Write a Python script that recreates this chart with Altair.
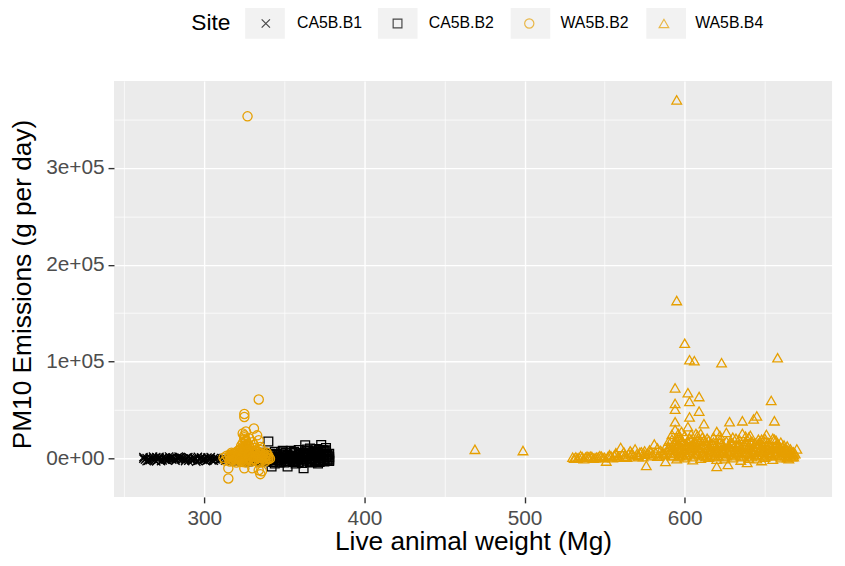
import altair as alt
import pandas as pd

sites = ["CA5B.B1", "CA5B.B2", "WA5B.B2", "WA5B.B4"]

# CA5B.B1 (crosses)
b1_w = [262, 263, 264, 265, 266, 267, 268, 269, 270, 271, 272, 273, 274, 275, 276, 277, 278, 279, 280,
        281, 282, 283, 284, 285, 286, 287, 288, 289, 290, 291, 292, 293, 294, 295, 296, 297, 298, 299,
        300, 301, 302, 303, 304, 305, 306, 307, 308, 310, 312, 314,
        262, 264, 266, 268, 270, 272, 274, 276, 278, 280, 282, 284, 286, 288, 290, 292, 294, 296, 298,
        300, 302, 304, 306, 309, 311, 313]
b1_e = [0, -1000, 500, -2000, 1000, -500, 0, -1500, 1500, -800, 200, -2500, 800, -300, 1200, -1800, 0,
        600, -1000, 300, -2000, 900, -400, 1500, -1200, 100, -700, 1000, -2200, 400, -100, -1500, 600,
        -3000, 1800, -600, 200, -1400, 800, -2500, 1000, -200, 1500, -1800, 500, -800, 200, -1000, 500, -500,
        1500, -2500, -1500, 2000, -2800, 1800, -1700, -1000, 2200, 1000, -500, 2000, 800, -2500, 1500,
        -1800, -500, -2000, 1200, -1000, -1800, -300, -2200, -1500, 300, -2000]

# CA5B.B2 (squares)
b2_w = [318, 320, 322, 325, 328, 330, 332, 334, 336, 338, 339, 340, 341, 342, 343, 344, 345, 346, 347,
        348, 349, 350, 351, 352, 353, 354, 355, 356, 357, 358, 359, 360, 361, 362, 362, 363, 364, 365,
        366, 366, 367, 368, 369, 370, 370, 371, 372, 373, 373, 374, 375, 376, 377, 378, 345, 355, 365, 375,
        342, 347, 352, 357, 362, 367, 372, 377,
        319, 321, 323, 326, 327, 329, 331, 333, 335, 337, 339, 341, 343, 344, 346, 348, 350, 351, 353,
        354, 356, 357, 358, 359, 360, 361, 363, 364, 365, 367, 368, 369, 371, 372, 373, 374, 375, 376,
        377, 378, 378,
        327, 329, 331, 333, 335, 337, 338, 340, 342, 343, 345, 347, 348, 349, 351, 352, 354, 355, 356,
        358, 359, 360, 361, 362, 363, 364, 366, 367, 368, 369, 370, 371, 372, 373, 374, 375, 376, 377,
        378, 344, 357, 371, 349, 364, 376]
b2_e = [0, 1000, -1000, 500, -2000, 1500, 0, 2000, -1500, 3000, 1000, 17700, -500, -8000, 1000, 4000,
        -2000, 2500, 500, -3000, 3500, 0, 1500, -8000, 2000, -1000, 3000, 500, -2500, 1000, 4000, -500,
        2000, -10000, 6000, 13700, 1000, 8000, -2000, 10500, 3000, 500, 7000, -1500, 10000, 2500, 9000,
        14000, 1000, -1000, 4000, 2000, 0, 1500, 5000, 6000, 4000, 8000,
        2000, -1000, 3000, 1000, 2500, -500, 5000, 3000,
        -2000, 2500, -500, 3000, -3000, 1000, 4000, -1000, 2500, 500, -2500, 5000, -3500, 7000, -1500,
        4500, -4000, 6000, -2500, 8000, -3500, 5500, -500, 9000, 3500, -4500, 5000, -3000, 2500, -4000,
        6500, -2500, 7500, -3500, 4500, 8500, -3000, 6500, -2000, 5000, -1000,
        2000, -1500, 500, 3500, -3000, 6000, 1500, -2000, 4500, -500, 2000, -4000, 6500, 1000, -3000,
        4000, 500, -2000, 7000, 2500, -3500, 5000, 1500, -2000, 7500, 3500, -3500, 5500, 2000, -1000,
        6000, 500, -2500, 7000, 3000, -1500, 8500, 4000, -2500, -5000, -5000, -5000, 8000, 9500, 11000]

# WA5B.B2 (circles)
wb2_w = [315, 315, 316, 317, 318, 318, 319, 319, 320, 320, 321, 321, 322, 322, 323, 323, 324, 324, 324,
         324, 325, 325, 325, 325, 325, 325, 326, 326, 326, 327, 327, 327, 328, 328, 329, 329, 330, 330,
         331, 331, 331, 332, 332, 333, 333, 334, 334, 334, 334, 335, 335, 335, 336, 336, 337, 337, 338,
         339, 340, 323, 326, 328, 327, 324, 317, 319, 321, 323, 329, 331, 333, 336, 338, 325, 326, 327,
         316, 317, 318, 319, 320, 321, 322, 323, 324, 325, 326, 327, 328, 329, 330, 331, 332, 333, 334,
         335, 336, 337, 338, 339, 340, 324, 326, 328, 330, 325, 327,
         312, 313, 314, 315, 316, 318, 320, 322, 324, 326, 328, 330, 332, 334, 336, 338, 339, 340, 341,
         322, 325, 327, 324, 326, 323, 328, 331, 333, 335]
wb2_e = [-10000, -20500, 2000, -1000, 3000, 5000, 0, 6000, 2500, -2000, 4000, 8000, 1000, 6000, -3000,
         3000, 500, 8000, 12000, 16000, 20000, 24000, 43000, 46000, 5000, -10000, 2000, -4000, 14000,
         353000, 7000, 10000, 21000, 1000, 4000, -2000, 6000, -10000, 31000, 2000, 14000, 8000, -1000,
         24000, 3000, 61000, 19000, -12000, 5000, 1000, 9000, -16000, -13000, 3000, 6000, 0, 2000, 4000,
         1000, 10000, 18000, 8000, 4000, 3000, 4000, 2000, 1000, 5000, 2000, 5000, 1000, 1000, 3000,
         12000, 17000, 4000,
         4000, 6000, -1500, 3000, 5000, -500, 3500, 7000, -1000, 1500, 6000, 3000, -500, 7000, 2500,
         -1000, 5000, 7000, 1000, 5000, -2000, 4000, -1000, 2000, -500, 10000, 19000, 13000, 17000,
         22000, 14000,
         1000, -2000, 3000, 500, -3000, 1000, -4000, -1500, -3500, -2000, 5000, -3000, 2000, -4000, 500,
         -3000, 6000, 3000, 0, 9000, 11000, 15000, 26000, 28000, 13000, 9000, 11000, 8000, 12000]

# WA5B.B4 (triangles)
wb4_w = [469, 499, 530, 532, 534, 536, 538, 540, 542, 544, 546, 548, 550, 551, 552, 554, 556, 558, 560,
         561, 563, 565, 566, 568, 569, 570, 572, 573, 574, 576, 577, 578, 580, 581, 582, 584, 585, 586,
         588, 588, 589, 590, 591, 592, 593, 594, 594, 594, 594, 595, 595, 594, 595, 596, 596, 597, 597,
         598, 598, 599, 600, 600, 600, 601, 602, 602, 603, 603, 603, 604, 604, 605, 606, 606, 607, 608,
         609, 609, 609, 610, 611, 612, 612, 613, 614, 615, 616, 617, 618, 619, 620, 620, 621, 622, 623,
         623, 624, 625, 626, 627, 627, 628, 629, 630, 631, 632, 633, 634, 635, 636, 636, 637, 638, 639,
         639, 640, 641, 642, 643, 644, 645, 645, 646, 647, 648, 648, 649, 650, 651, 651, 652, 653, 654,
         654, 655, 656, 656, 657, 658, 658, 659, 660, 661, 662, 663, 664, 665, 666, 667, 668, 670,
         592, 596, 599, 603, 606, 611, 615, 619, 624, 629, 633, 638, 642, 647, 652, 657, 661, 664,
         533, 539, 545, 553, 557, 562, 567, 571, 575, 579, 583, 587, 590, 593, 595, 597, 601, 605,
         608, 613, 617, 621, 626, 631, 635, 640, 644, 649, 653, 659, 663, 666,
         591, 592, 593, 594, 595, 596, 597, 598, 599, 600, 601, 602, 603, 604, 605, 606, 607, 608, 609,
         610, 611, 612, 613, 614, 615, 616, 617, 618, 619, 620, 621, 622, 623, 624, 625, 626, 627, 628,
         629, 630, 631, 632, 633, 634, 635, 636, 637, 638, 639, 640, 641, 642, 643, 644, 645, 646, 647,
         648, 649, 650, 651, 652, 653, 654, 655, 656, 657, 658, 659, 660, 661, 662, 663, 664, 665, 666,
         667, 668, 669,
         595, 600, 605, 610, 615, 620, 625, 630, 635, 640, 645, 650, 655, 660, 665, 597, 603, 608, 612,
         618, 622, 634, 641, 646, 650, 657,
         531, 535, 537, 541, 543, 547, 549, 553, 555, 557, 559, 562, 564, 567, 571, 575, 579, 583, 587,
         590, 592, 594, 596, 598, 600, 602, 604, 606, 608, 610, 612, 614, 616, 618, 620, 622, 624, 626,
         628, 630, 632, 634, 636, 638, 640, 642, 644, 646, 648, 650, 652, 654, 656, 658, 660, 662, 664,
         666, 668]
wb4_e = [9600, 8300, 1500, 1800, 1200, 2000, 1500, 1700, 2200, 1000, 1800, 2500, 1300, -2500, 2000, 2800,
         3500, 1500, 11500, 4000, 2500, 5000, 8000, 3000, 10000, 4500, 6500, 7000, 2000, -7000, 5500,
         9000, 4000, 15000, 6000, 3000, 8500, 5000, -3000, 12000, 7000, 18000, 5000, 25000, 12000, 38000,
         51000, 57000, 73000, 163000, 370000, 30000, 20000, 8000, 15000, 22000, 3000, 10000, 28000, 17000,
         119000, 6000, 24000, 13000, 33000, 68000, 43000, 59000, 102000, 20000, 9000, 15000, 101000, 4000,
         26000, 12000, 49000, 64000, 18000, 8000, 22000, 36000, 3000, 14000, 10000, 19000, 6000, 16000,
         2000, 12000, 28000, -8000, 9000, 20000, 99000, 5000, 14000, 11000, 27000, -6000, 7000, 38000,
         17000, 4000, 13000, 21000, 8000, 15000, 3000, 39000, 26000, 10000, 18000, -4000, 6000, 22000,
         12000, 9000, 41000, 16000, 44000, 4000, 20000, 11000, -2000, 7000, 14000, 18000, 25000, 3000,
         10000, 15000, 60000, 6000, 21000, 39000, 12000, 8000, 104000, 16000, 4000, 11000, 7000, 14000,
         3000, 9000, 5000, 6000, 2000, 4000, 10000,
         9000, 14000, 4000, 11000, 17000, 6000, 12000, 3000, 8000, 15000, 5000, 13000, 2000, 9000, 6000,
         3000, 8000, 1000,
         500, 2500, 1500, 3000, 5000, 2000, 6000, 3500, 4500, 7000, 2500, 6000, 10000, 3000, 14000, 7000,
         4000, 11000, 6000, 2000, 9000, 13000, 3000, 7000, 12000, 5000, 15000, 8000, 4000, 13000, 6000, 3000,
         9000, 3000, 16000, 6000, 11000, 2000, 13000, 5000, 9000, 15000, 3000, 11000, 7000, 14000, 2000,
         9000, 16000, 5000, 11000, 15000, 4000, 9000, 18000, 3000, 12000, 8000, 4000, 14000, 7000, 11000,
         3000, 8000, 15000, 6000, 2000, 10000, 13000, 5000, 9000, 16000, 7000, 3000, 12000, 6000, 10000,
         2000, 14000, 7000, 11000, 4000, 17000, 6000, 10000, 3000, 12000, 7000, 15000, 4000, 9000, 2000,
         13000, 6000, 9000, 3000, 11000, 5000, 14000, 7000, 10000, 3000, 12000, 6000, 9000, 2000, 8000,
         4000, 7000, 2000, 5000,
         0, 1000, -1000, 500, 1500, -500, 0, 1000, -1500, 500, 0, 1500, -500, 1000, 0, 19000, 21000,
         24000, 19000, 22000, 17000, 20000, 24000, 16000, 21000, 19000,
         500, 3000, 0, 2500, 500, 3000, 1000, 4000, 1000, 6000, 2000, 7000, 1500, 5000, 2000, 8000, 3000,
         11000, 4000,
         12000, 20000, 16000, 26000, 18000, 9000, 17000, 25000, 12000, 20000, 26000, 14000, 21000, 11000,
         17000, 6000, 24000, 9000, 18000, 13000, 22000, 10000, 15000, 8000, 23000, 12000, 18000, 8000,
         13000, 20000, 9000, 17000, 12000, 20000, 11000, 17000, 9000, 13000, 10000, 7000]

frames = []
for name, w, e in [(sites[0], b1_w, b1_e), (sites[1], b2_w, b2_e),
                   (sites[2], wb2_w, wb2_e), (sites[3], wb4_w, wb4_e)]:
    frames.append(pd.DataFrame({"weight": w, "pm10": e, "Site": name}))
df = pd.concat(frames, ignore_index=True)
df["order"] = range(len(df))
df["SiteKey"] = df["Site"]

FONT = "Liberation Sans"
cross_path = "M-1,-1L1,1M-1,1L1,-1"
box_path = "M-1,-0.9L1,-0.9L1,0.9L-1,0.9Z"

# Main legend: title, key symbols and labels
legend_main = alt.Legend(
    orient="none", legendX=78, legendY=-66, direction="horizontal", zindex=1,
    title="Site", titleOrient="left", titleFontSize=23, titleFont=FONT,
    titleFontWeight="normal", titleColor="#000000", titlePadding=27.3,
    titleBaseline="middle", titleAnchor="middle",
    labelFontSize=16, labelFont=FONT, labelColor="#000000",
    columnPadding=27, symbolSize=81, symbolStrokeWidth=1.2,
    symbolOffset=0, labelOffset=23.5,
)
# Background legend: only the light grey key boxes (its texts are transparent)
legend_boxes = alt.Legend(
    orient="none", legendX=70, legendY=-81.5, direction="horizontal", zindex=0,
    title="Site", titleOrient="left", titleFontSize=23, titleFont=FONT,
    titleFontWeight="normal", titleColor="transparent", titlePadding=12,
    titleBaseline="middle", titleAnchor="middle",
    labelFontSize=16, labelFont=FONT, labelColor="transparent",
    columnPadding=-36, symbolType=box_path, symbolSize=400,
    symbolStrokeColor="#F2F2F2", symbolStrokeWidth=20, symbolFillColor="#F2F2F2",
    symbolOffset=10.5, labelOffset=17,
)

x_axis = alt.Axis(
    values=[250, 300, 350, 400, 450, 500, 550, 600, 650],
    labelExpr="datum.value % 100 == 0 ? datum.label : ''",
    title="Live animal weight (Mg)", titleFontSize=26.5, titleFont=FONT, titleFontWeight="normal",
    titleColor="#000000", titleY=53, titleBaseline="alphabetic",
    labelFontSize=21, labelFont=FONT, labelColor="#4D4D4D", labelPadding=5,
    tickSize=6, tickWidth=1.4, tickColor="#333333",
    tickOpacity={"condition": {"test": "datum.value % 100 == 0", "value": 1}, "value": 0},
    grid=True, gridColor="#FFFFFF",
    gridWidth={"condition": {"test": "datum.value % 100 == 0", "value": 1.4}, "value": 0.7},
    domain=False,
)
y_axis = alt.Axis(
    values=[0, 50000, 100000, 150000, 200000, 250000, 300000, 350000],
    labelExpr="datum.value % 100000 == 0 ? replace(format(datum.value, '.0e'), 'e+', 'e+0') : ''",
    title="PM10 Emissions (g per day)", titleFontSize=26.5, titleFont=FONT, titleFontWeight="normal",
    titleColor="#000000", titleX=-92, titleY=205, titleAngle=-90, titleBaseline="middle",
    titleAlign="center",
    labelFontSize=21, labelFont=FONT, labelColor="#4D4D4D", labelPadding=4,
    tickSize=6, tickWidth=1.4, tickColor="#333333",
    tickOpacity={"condition": {"test": "datum.value % 100000 == 0", "value": 1}, "value": 0},
    grid=True, gridColor="#FFFFFF",
    gridWidth={"condition": {"test": "datum.value % 100000 == 0", "value": 1.4}, "value": 0.7},
    domain=False,
)

chart = alt.Chart(df).mark_point(filled=False, strokeWidth=1.3).encode(
    x=alt.X("weight:Q", scale=alt.Scale(domain=[243.6, 692], nice=False, zero=False), axis=x_axis),
    y=alt.Y("pm10:Q", scale=alt.Scale(domain=[-39500, 389500], nice=False, zero=False), axis=y_axis),
    shape=alt.Shape("Site:N", scale=alt.Scale(domain=sites, range=[cross_path, "square", "circle", "triangle-up"]),
                    legend=legend_main),
    color=alt.Color("Site:N", scale=alt.Scale(domain=sites, range=["#000000", "#000000", "#E69F00", "#E69F00"]),
                    legend=legend_main),
    size=alt.Size("Site:N", scale=alt.Scale(domain=sites, range=[70, 95, 95, 150]), legend=None),
    opacity=alt.Opacity("SiteKey:N", scale=alt.Scale(range=[1, 1, 1, 1]), legend=legend_boxes),
    order=alt.Order("order:Q"),
).properties(
    width=725, height=420,
    autosize=alt.AutoSizeParams(type="none"),
    padding={"left": 107, "top": 71, "right": 5, "bottom": 59},
).configure(font=FONT).configure_view(
    fill="#EBEBEB", stroke=None
)

chart.save("out.html", embed_options={"renderer": "svg", "actions": False})
